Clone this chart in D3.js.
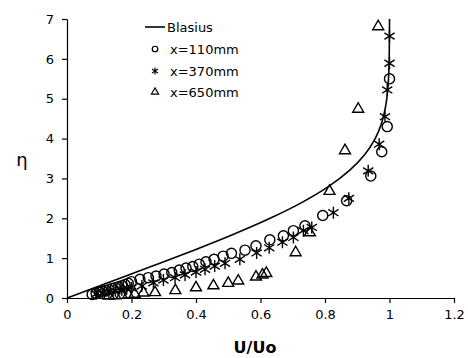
<!DOCTYPE html>
<html>
<head>
<meta charset="utf-8">
<script src="https://cdn.jsdelivr.net/npm/d3@7"></script>
<style>
  body { margin: 0; background: #fff; }
  text { font-family: "DejaVu Sans", Verdana, sans-serif; fill: #000; }
</style>
</head>
<body>
<div id="chart"></div>
<script>
// Blasius profile (eta, U/Uo)
var blasiusEta = [0, 0.4, 0.8, 1.2, 1.6, 2.0, 2.4, 2.8, 3.2, 3.6, 4.0, 4.4, 4.8, 5.2, 5.6, 6.0, 6.4, 7.0];
var blasiusU   = [0, 0.1328, 0.2647, 0.3938, 0.5168, 0.6298, 0.7290, 0.8115, 0.8761, 0.9233, 0.9555, 0.9759, 0.9878, 0.9943, 0.9975, 0.9990, 0.9996, 1.0];

// x=110mm
var u110   = [0.078, 0.09, 0.10, 0.11, 0.12, 0.13, 0.14, 0.15, 0.16, 0.17, 0.18, 0.19, 0.20, 0.226, 0.252, 0.276, 0.301, 0.325, 0.348, 0.369, 0.39, 0.41, 0.431, 0.456, 0.484, 0.51, 0.552, 0.586, 0.629, 0.671, 0.702, 0.738, 0.793, 0.867, 0.942, 0.976, 0.993, 1.0];
var eta110 = [0.09, 0.12, 0.15, 0.17, 0.19, 0.21, 0.24, 0.26, 0.28, 0.31, 0.34, 0.37, 0.41, 0.47, 0.51, 0.55, 0.60, 0.64, 0.70, 0.75, 0.79, 0.85, 0.91, 0.97, 1.05, 1.12, 1.20, 1.31, 1.46, 1.56, 1.69, 1.81, 2.07, 2.44, 3.06, 3.67, 4.30, 5.5];

// x=370mm
var u370   = [0.09, 0.11, 0.13, 0.15, 0.17, 0.185, 0.20, 0.232, 0.268, 0.299, 0.335, 0.366, 0.40, 0.428, 0.458, 0.49, 0.536, 0.588, 0.627, 0.668, 0.702, 0.733, 0.759, 0.826, 0.874, 0.934, 0.968, 0.986, 0.993, 1.0, 1.0];
var eta370 = [0.10, 0.12, 0.15, 0.18, 0.21, 0.23, 0.25, 0.30, 0.38, 0.45, 0.51, 0.58, 0.65, 0.72, 0.80, 0.87, 0.97, 1.13, 1.26, 1.40, 1.52, 1.69, 1.77, 2.14, 2.50, 3.19, 3.86, 4.55, 5.22, 5.89, 6.57];

// x=650mm
var u650   = [0.13, 0.15, 0.17, 0.19, 0.21, 0.237, 0.273, 0.336, 0.40, 0.454, 0.50, 0.531, 0.586, 0.606, 0.618, 0.709, 0.753, 0.814, 0.862, 0.903, 0.965];
var eta650 = [0.05, 0.06, 0.07, 0.08, 0.10, 0.13, 0.14, 0.19, 0.26, 0.31, 0.37, 0.43, 0.53, 0.58, 0.62, 1.14, 1.64, 2.68, 3.70, 4.74, 6.81];

var xTicks = [0, 0.2, 0.4, 0.6, 0.8, 1, 1.2];
var yTicks = [0, 1, 2, 3, 4, 5, 6, 7];
var legendLabels = ["Blasius", "x=110mm", "x=370mm", "x=650mm"];

var W = 468, H = 358;
var svg = d3.select("#chart").append("svg").attr("width", W).attr("height", H);

var x = d3.scaleLinear().domain([0, 1.2]).range([67, 454]);
var y = d3.scaleLinear().domain([0, 7]).range([298, 19]);

// axes
svg.append("g").attr("transform", "translate(0,298)")
  .call(d3.axisBottom(x).tickValues(xTicks).tickSize(5).tickSizeOuter(0).tickPadding(7)
    .tickFormat(function(d) { return String(+d.toFixed(1)); }));
svg.append("g").attr("transform", "translate(67,0)")
  .call(d3.axisLeft(y).tickValues(yTicks).tickSize(5).tickSizeOuter(0).tickPadding(8)
    .tickFormat(d3.format("d")));
svg.selectAll(".domain, .tick line").attr("stroke", "#000").attr("stroke-width", 1.2);
svg.selectAll(".tick text").style("font-size", "13px").style("font-family", "'DejaVu Sans', Verdana, sans-serif");

svg.append("text").attr("x", 255).attr("y", 353).attr("text-anchor", "middle")
  .style("font-size", "16px").style("font-weight", "bold").text("U/Uo");
svg.append("text").attr("x", 22).attr("y", 166).attr("text-anchor", "middle")
  .style("font-size", "18px").text("η");

// Blasius line
var line = d3.line().x(function(d, i) { return x(blasiusU[i]); }).y(function(d) { return y(d); })
  .curve(d3.curveMonotoneY);
svg.append("path").datum(blasiusEta).attr("d", line)
  .attr("fill", "none").attr("stroke", "#000").attr("stroke-width", 1.6);

// markers
var circ = d3.symbol().type(d3.symbolCircle).size(80);
var tri = d3.symbol().type(d3.symbolTriangle).size(52);
function starPath(r) {
  var a = r * 0.85;
  return "M0," + (-r) + "V" + r + "M" + (-a) + "," + (-a * 0.65) + "L" + a + "," + (a * 0.65) +
    "M" + (-a) + "," + (a * 0.65) + "L" + a + "," + (-a * 0.65);
}

svg.append("g").selectAll("path").data(u110).enter().append("path")
  .attr("d", circ)
  .attr("transform", function(d, i) { return "translate(" + x(d) + "," + y(eta110[i]) + ")"; })
  .attr("fill", "none").attr("stroke", "#000").attr("stroke-width", 1.4);

svg.append("g").selectAll("path").data(u370).enter().append("path")
  .attr("d", starPath(6))
  .attr("transform", function(d, i) { return "translate(" + x(d) + "," + y(eta370[i]) + ")"; })
  .attr("fill", "none").attr("stroke", "#000").attr("stroke-width", 1.4);

svg.append("g").selectAll("path").data(u650).enter().append("path")
  .attr("d", tri)
  .attr("transform", function(d, i) { return "translate(" + x(d) + "," + y(eta650[i]) + ")"; })
  .attr("fill", "none").attr("stroke", "#000").attr("stroke-width", 1.4);

// legend
var lg = svg.append("g");
var rows = [27, 49, 71, 92];
lg.append("line").attr("x1", 145).attr("x2", 165).attr("y1", rows[0]).attr("y2", rows[0])
  .attr("stroke", "#000").attr("stroke-width", 1.6);
lg.append("path").attr("d", d3.symbol().type(d3.symbolCircle).size(24)).attr("transform", "translate(155," + rows[1] + ")")
  .attr("fill", "none").attr("stroke", "#000").attr("stroke-width", 1.2);
lg.append("path").attr("d", starPath(3.5)).attr("transform", "translate(155," + rows[2] + ")")
  .attr("fill", "none").attr("stroke", "#000").attr("stroke-width", 1.2);
lg.append("path").attr("d", d3.symbol().type(d3.symbolTriangle).size(22)).attr("transform", "translate(155," + rows[3] + ")")
  .attr("fill", "none").attr("stroke", "#000").attr("stroke-width", 1.2);
lg.selectAll("text").data(legendLabels).enter().append("text")
  .attr("x", function(d, i) { return i === 0 ? 167 : 170; })
  .attr("y", function(d, i) { return rows[i] + 5; })
  .style("font-size", "13px").text(function(d) { return d; });
</script>
</body>
</html>
